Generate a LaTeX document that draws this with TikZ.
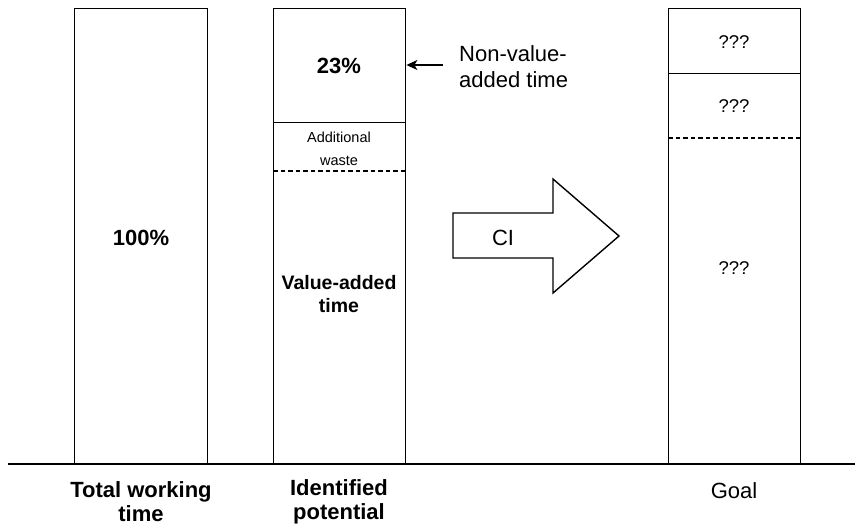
\documentclass[tikz,border=0pt]{standalone}
\usepackage{fontspec}
\setmainfont{Liberation Sans}
\usetikzlibrary{arrows.meta,positioning}
\begin{document}
\begin{tikzpicture}[x=1pt,y=-1pt,
  box/.style={draw, line width=1.4pt, rectangle, inner sep=0pt, anchor=north west},
  divider/.style={line width=1.2pt, dash pattern=on 4.5pt off 3pt},
  big/.style={font=\fontsize{22}{26}\selectfont},
  bigb/.style={font=\fontsize{22}{24}\selectfont\bfseries, align=center},
  mid/.style={font=\fontsize{19.5}{23}\selectfont\bfseries, align=center},
  small/.style={font=\fontsize{14.5}{25}\selectfont},
  qq/.style={font=\fontsize{18.5}{22}\selectfont},
]
\useasboundingbox (0,0) rectangle (855,527);

% ground line
\coordinate (g1) at (8,464);
\coordinate (g2) at (855,464);

% bar 1: total working time
\node[box, minimum width=133pt, minimum height=456pt] (b1) at (74,8) {};
\node[bigb] (t100) at (141,238) {100\%};

% bar 2: identified potential
\node[box, minimum width=132pt, minimum height=114pt] (b2top) at (273,8) {};
\node[box, minimum width=132pt, minimum height=342pt] (b2low) at (273,122) {};
\draw[divider] (273,171) coordinate (d2a) -- (405,171) coordinate (d2b);
\node[bigb] (t23) at (339,66) {23\%};
\node[small] (addw) at (339,137) {Additional};
\node[small] (waste) at (339,161) {waste};
\node[mid] (vat) at (339,294) {Value-added\\time};

% annotation
\node[big, align=left, anchor=west, inner sep=0pt] (nva) at (459,67) {Non-value-\\added time};
\coordinate (nvaStart) at (443,65);
\draw[line width=1.4pt, -{Stealth[length=11pt,width=10pt,inset=3pt]}] (nvaStart) -- (b2top.east |- nvaStart);

% CI arrow
\coordinate (a1) at (453,213);
\coordinate (a2) at (553,213);
\coordinate (a3) at (553,179);
\coordinate (a4) at (619,236);
\coordinate (a5) at (553,293);
\coordinate (a6) at (553,258);
\coordinate (a7) at (453,258);
\draw[line width=1.4pt, line join=miter] (a1) -- (a2) -- (a3) -- (a4) -- (a5) -- (a6) -- (a7) -- cycle;
\node[big] (ci) at (503,238) {CI};

% bar 3: goal
\node[box, minimum width=132pt, minimum height=65pt] (b3top) at (668,8) {};
\node[box, minimum width=132pt, minimum height=391pt] (b3low) at (668,73) {};
\draw[divider] (668,138) coordinate (d3a) -- (800,138) coordinate (d3b);
\node[qq] (q1) at (734,42) {???};
\node[qq] (q2) at (734,106) {???};
\node[qq] (q3) at (734,268) {???};

\draw[line width=2pt] (g1) -- (g2);

% labels under the bars
\node[bigb] (l1) at (141,502) {Total working\\time};
\node[bigb] (l2) at (339,502) {Identified\\potential};
\node[big] (l3) at (734,491) {Goal};
\end{tikzpicture}
\end{document}
